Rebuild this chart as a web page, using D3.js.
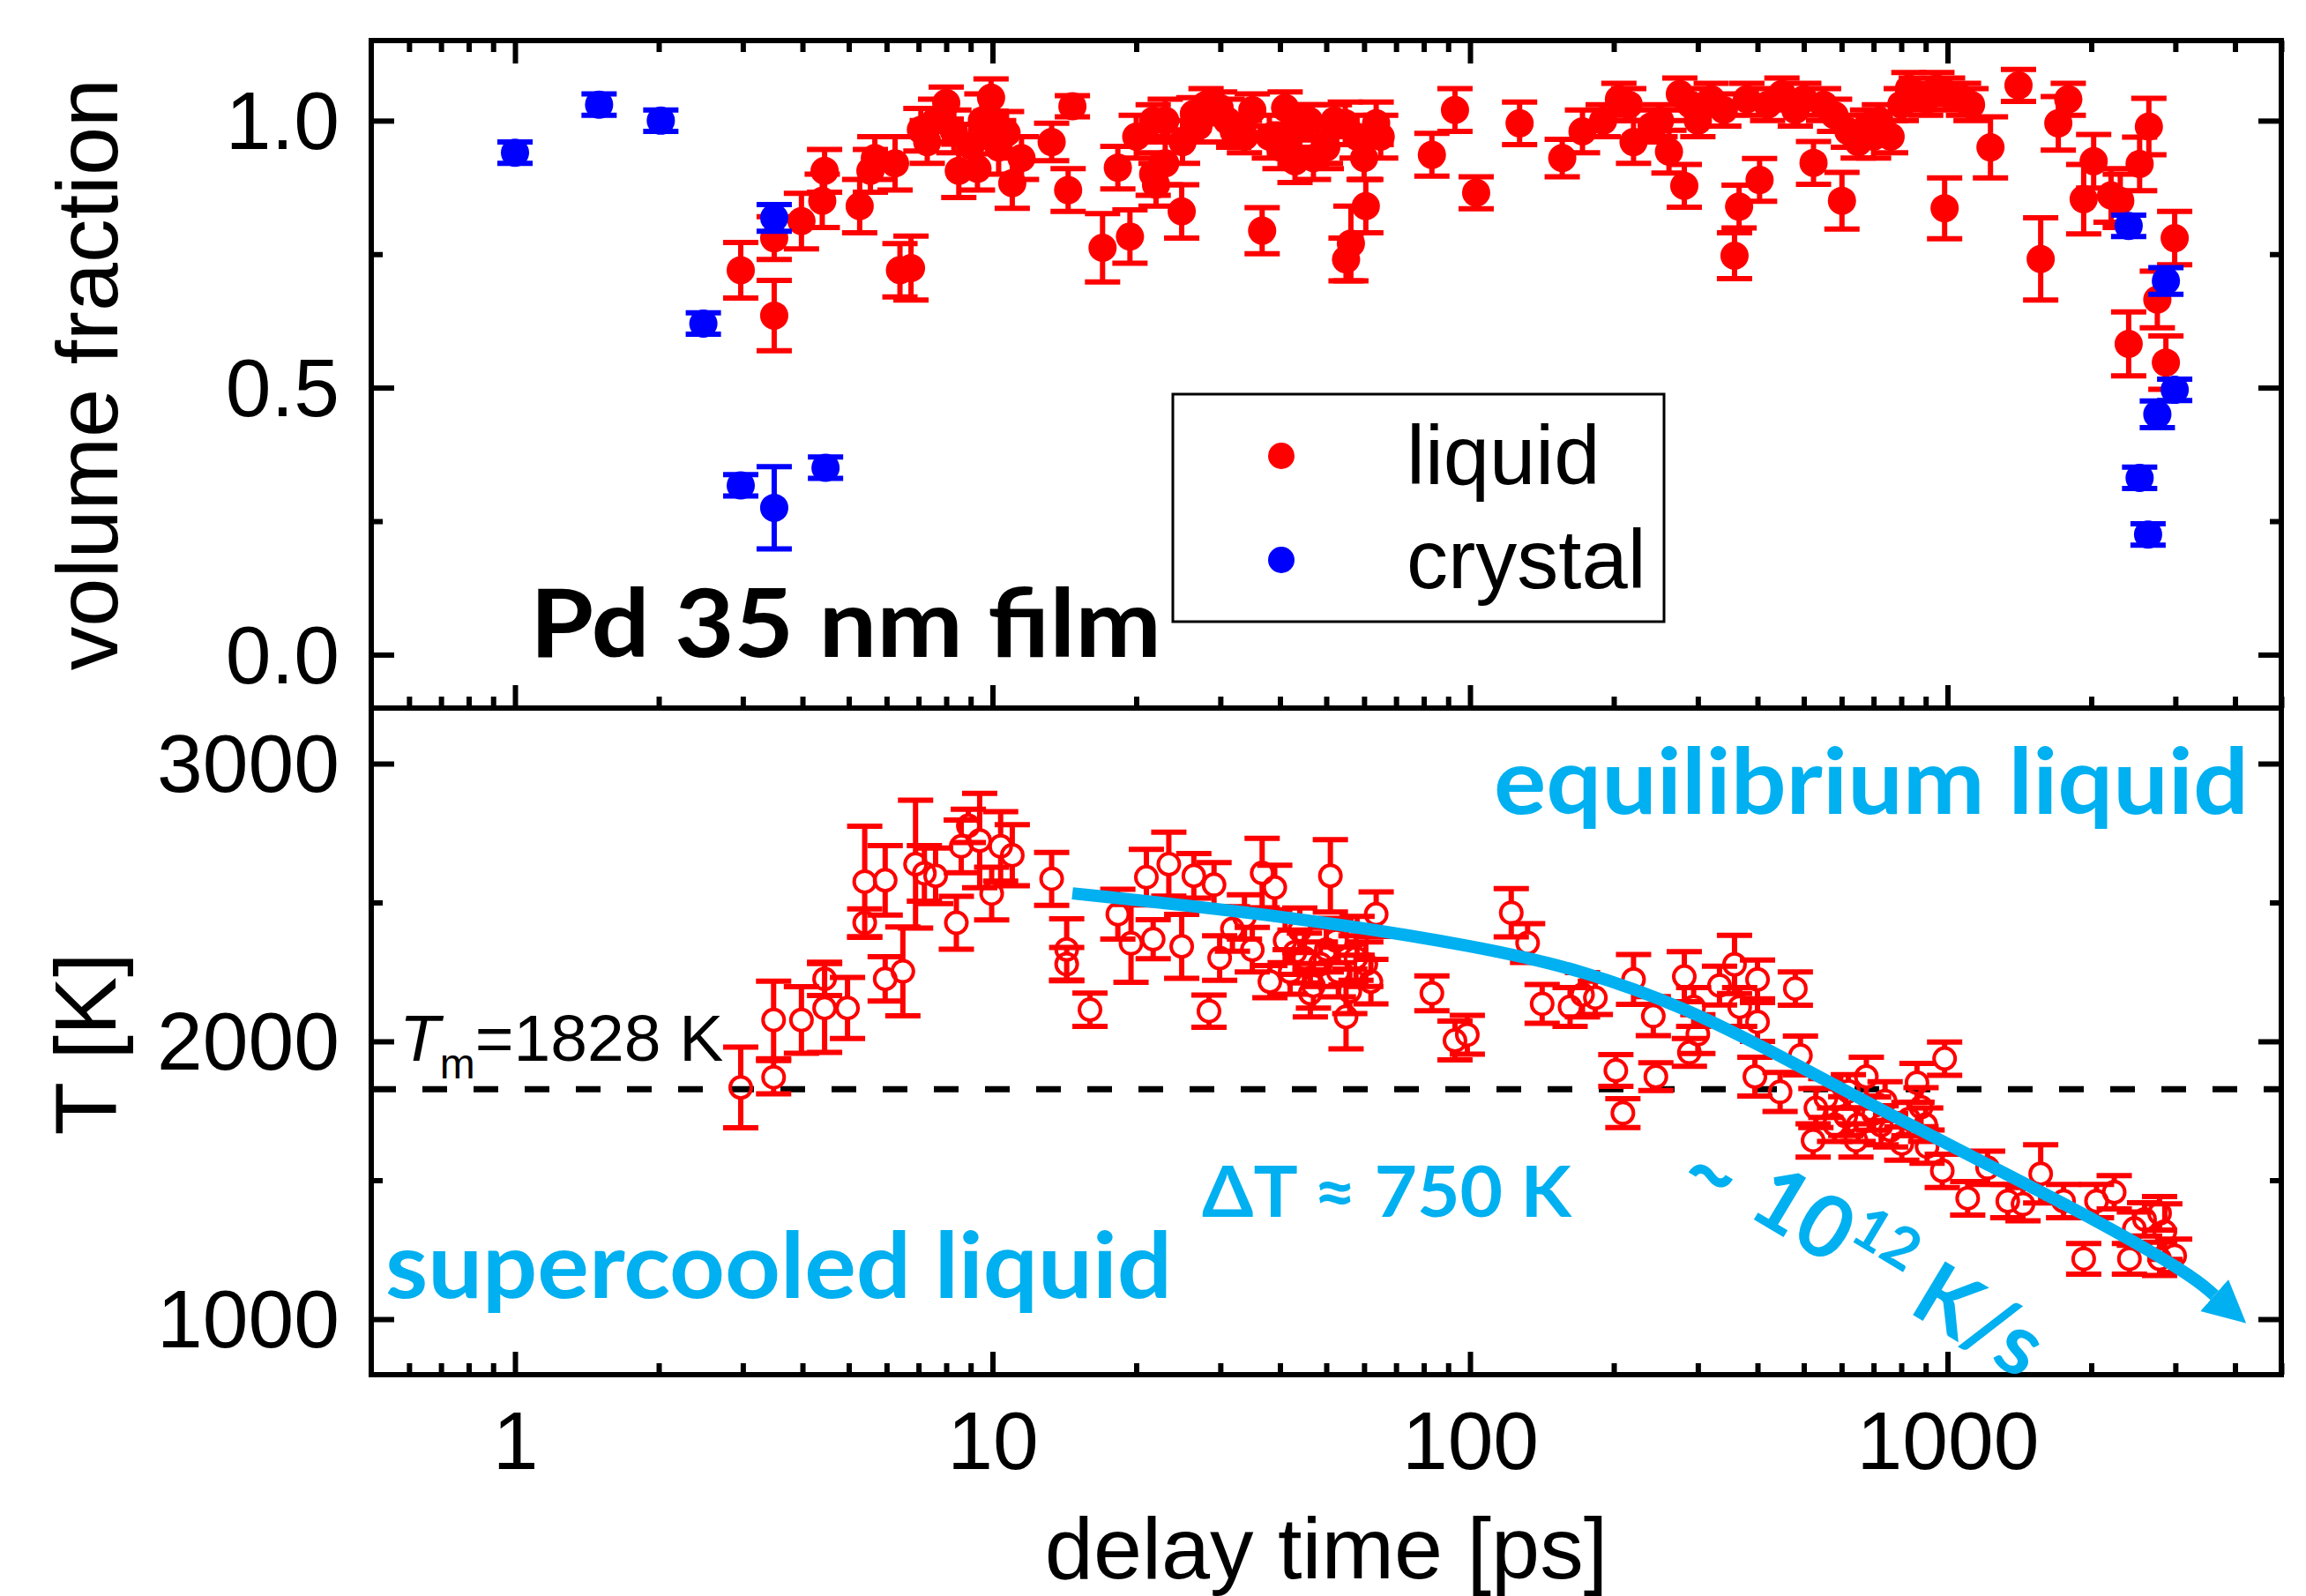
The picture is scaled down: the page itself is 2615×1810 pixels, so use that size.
<!DOCTYPE html>
<html>
<head>
<meta charset="utf-8">
<script src="https://cdn.jsdelivr.net/npm/d3@7"></script>
<style>
  html, body { margin: 0; padding: 0; background: #fff; }
  svg { display: block; }
  .tick text { font-family: "Liberation Sans", Arial, sans-serif; font-size: 93px; fill: #000; }
  .tick line { stroke: #000; stroke-width: 6; }
  .axis-title { font-family: "Liberation Sans", Arial, sans-serif; font-size: 99px; fill: #000; }
  .note { font-family: Lato, "Open Sans", sans-serif; font-weight: 700; fill: #00b0f0; }
</style>
</head>
<body>
<div id="chart"></div>
<script>
// volume fraction of liquid: [delay ps, fraction, error]
const liquidFrac = [
  [2.97,0.72,0.052],[3.49,0.635,0.066],[3.49,0.78,0.04],[3.98,0.812,0.052],
  [4.4,0.85,0.05],[4.45,0.906,0.04],[5.27,0.84,0.05],[5.55,0.906,0.04],[5.67,0.93,0.04],
  [6.25,0.92,0.05],[6.4,0.72,0.05],[6.75,0.724,0.06],[7.08,0.983,0.04],[7.3,0.96,0.04],
  [7.6,1.0,0.04],[8.0,1.033,0.03],[8.3,0.98,0.04],[8.5,0.906,0.05],[9.0,0.953,0.04],
  [9.3,0.91,0.04],[9.5,1.0,0.05],[9.93,1.043,0.035],[9.93,0.978,0.04],[10.3,0.95,0.05],
  [10.7,0.977,0.04],[11.0,0.883,0.047],[11.5,0.93,0.04],[13.3,0.96,0.035],[14.4,0.87,0.04],
  [14.7,1.027,0.02],[17.0,0.762,0.064],[18.3,0.912,0.04],[19.4,0.783,0.05],[20,0.97,0.04],
  [21.7,0.9,0.04],[21.7,1.0,0.03],[22,0.88,0.04],[23,1.0,0.04],[23,0.92,0.04],[24.9,0.83,0.05],
  [25,0.96,0.04],[26.4,1.013,0.03],[27,0.99,0.03],[28,1.03,0.03],[29.9,1.024,0.03],[31,1.0,0.04],
  [32,0.98,0.03],[33.7,0.97,0.03],[35,1.02,0.03],[36.7,0.794,0.043],[38,0.97,0.04],[40,0.95,0.04],
  [41,1.024,0.03],[42,0.98,0.04],[43,0.924,0.04],[44,0.99,0.04],[46,1.0,0.03],[47,0.93,0.04],
  [49.8,0.96,0.04],[50,0.95,0.04],[52,1.0,0.03],[54.8,0.995,0.04],[55,0.74,0.04],[56.3,0.77,0.07],
  [58,0.97,0.04],[60,0.93,0.04],[60.5,0.84,0.05],[63.6,0.995,0.04],[65,0.97,0.04],
  [83.2,0.936,0.04],[93,1.02,0.04],[103,0.865,0.03],[127,0.995,0.04],[156,0.93,0.035],
  [172,0.98,0.04],[190,1.0,0.03],[205,1.04,0.03],[215,1.03,0.03],[220,0.96,0.04],[240,0.99,0.03],
  [250,1.0,0.03],[261,0.942,0.04],[275,1.05,0.03],[281,0.878,0.04],[290,1.03,0.03],[300,1.0,0.03],
  [320,1.04,0.03],[340,1.02,0.03],[358,0.747,0.043],[366,0.839,0.04],[380,1.04,0.03],[404,0.889,0.04],
  [420,1.03,0.03],[450,1.05,0.03],[480,1.02,0.03],[500,1.04,0.03],[524,0.921,0.04],[550,1.03,0.03],
  [580,1.01,0.03],[601,0.85,0.053],[620,0.98,0.03],[650,0.96,0.03],[680,0.99,0.03],[700,0.97,0.04],
  [720,1.0,0.03],[760,0.97,0.03],[800,1.03,0.03],[830,1.06,0.03],[860,1.05,0.03],[900,1.04,0.03],
  [950,1.06,0.03],[986,0.836,0.057],[1000,1.05,0.03],[1080,1.04,0.03],[1120,1.03,0.03],
  [1230,0.95,0.057],[1408,1.066,0.03],[1567,0.741,0.077],[1706,0.995,0.05],[1790,1.04,0.03],
  [1928,0.853,0.065],[2023,0.924,0.05],[2200,0.86,0.05],[2300,0.85,0.05],[2395,0.582,0.06],
  [2525,0.919,0.05],[2640,0.989,0.053],[2750,0.665,0.053],[2866,0.547,0.05],[2990,0.78,0.05]
];

// volume fraction of crystal
const crystalFrac = [
  [1.0,0.94,0.02],[1.5,1.03,0.02],[2.02,1.0,0.02],[2.48,0.62,0.02],[2.97,0.317,0.02],
  [3.49,0.818,0.025],[3.49,0.275,0.077],[4.47,0.35,0.02],
  [2395,0.803,0.02],[2525,0.331,0.02],[2630,0.225,0.02],[2750,0.45,0.025],[2866,0.70,0.025],[2990,0.496,0.02]
];

// liquid temperature: [delay ps, T K, error]
const liquidTemp = [
  [2.97,1834,145],[3.48,2077,140],[3.48,1871,60],[3.98,2077,120],[4.45,2120,160],[4.45,2225,60],
  [4.97,2120,110],[5.4,2575,200],[5.4,2427,50],[5.96,2580,125],[5.96,2225,80],[6.49,2252,160],
  [6.9,2638,230],[7.2,2605,100],[7.6,2596,100],[8.4,2427,95],[8.6,2702,95],[8.9,2776,60],
  [9.4,2723,170],[9.96,2532,95],[10.4,2702,125],[11,2670,110],[13.3,2585,95],[14.3,2331,110],
  [14.3,2278,60],[16,2114,60],[18.3,2458,90],[19.5,2353,140],[21,2591,100],[21.7,2368,70],
  [23.4,2638,115],[24.9,2342,115],[26.4,2596,80],[28.4,2109,58],[29.1,2564,80],[29.9,2300,80],
  [31.8,2405,80],[33.7,2448,80],[35,2330,80],[36.7,2606,125],[38.1,2215,58],[39,2554,80],
  [41,2363,80],[42,2250,80],[43,2321,80],[44,2400,80],[45,2300,90],[46.3,2173,85],[47,2200,80],
  [48.6,2278,80],[50,2330,80],[51,2596,130],[52.4,2363,80],[53,2250,90],[55,2088,115],
  [56,2180,80],[57.7,2300,80],[58,2380,70],[60.5,2278,80],[62,2215,80],[63.6,2458,80],
  [83.2,2173,63],[93,2003,70],[98.7,2024,70],
  [122,2463,87],[132,2354,70],[141.6,2135,70],[162,2124,70],[172,2168,80],[183,2157,60],
  [202,1895,57],[209,1742,52],[220,2223,90],[242,2091,70],[245,1873,50],[281,2233,90],
  [288,1960,50],[294,2124,70],[300,2026,70],[333,2201,70],[358,2277,105],[367,2124,70],
  [395,1873,70],[400,2223,70],[400,2070,70],[446,1818,70],[480,2190,60],[492,1949,70],
  [523,1643,60],[530,1760,70],[556,1796,70],[580,1700,60],[612,1731,70],[620,1820,60],
  [643,1643,60],[650,1700,60],[676,1873,70],[700,1740,60],[726,1698,70],[740,1785,70],
  [760,1680,60],[802,1632,60],[830,1720,60],[863,1851,70],[880,1763,70],[900,1700,60],
  [906,1621,60],[975,1534,60],[986,1938,60],[1102,1435,60],[1213,1545,60],[1337,1425,60],
  [1439,1414,60],[1567,1523,105],[1750,1425,60],[1928,1217,55],[2051,1425,60],[2234,1457,60],
  [2404,1217,55],[2462,1326,60],[2586,1359,60],[2780,1217,60],[2780,1381,60],[2851,1315,100],
  [2990,1228,60]
];

// cooling arrow drawn through these (delay ps, T K)
const arrowTime = [14.7, 43.1, 105.7, 172, 281, 456, 744, 1214, 1977, 3228, 3622];
const arrowTemp = [2533, 2448, 2340, 2256, 2124, 1940, 1743, 1556, 1371, 1162, 1086];

const meltTemp = 1828;
const xMajor = [1, 10, 100, 1000];
const xLabels = ["1", "10", "100", "1000"];
const fracMajor = [0, 0.5, 1.0];
const fracMinor = [0.25, 0.75];
const tempMajor = [1000, 2000, 3000];
const tempMinor = [1500, 2500];
const legendNames = ["liquid", "crystal"];
const legendColors = ["#ff0000", "#0000ff"];

const xMinor = [];
[0.1, 1, 10, 100, 1000].forEach(dec => {
  for (let k = 2; k <= 9; k++) {
    const v = dec * k;
    if (v > 0.5 && v <= 5000) xMinor.push(v);
  }
});

const W = 2615, H = 1810;
const L = 421, R = 2587, T0 = 46, MID = 803, B = 1559;

const svg = d3.select("#chart").append("svg").attr("width", W).attr("height", H);

const x = d3.scaleLog().domain([0.5, 5000]).range([L, R]);
const yFrac = d3.scaleLinear().domain([-0.1, 1.15]).range([MID, T0]);
const yTemp = d3.scaleLinear().domain([800, 3200]).range([B, MID]);

const defs = svg.append("defs");
defs.append("clipPath").attr("id", "clipTop")
  .append("rect").attr("x", L).attr("y", T0).attr("width", R - L).attr("height", MID - T0);
defs.append("clipPath").attr("id", "clipBot")
  .append("rect").attr("x", L).attr("y", MID).attr("width", R - L).attr("height", B - MID);
defs.append("marker").attr("id", "head")
  .attr("markerUnits", "userSpaceOnUse")
  .attr("viewBox", "0 -25 50 50")
  .attr("markerWidth", 50).attr("markerHeight", 50)
  .attr("refX", 0).attr("refY", 0).attr("orient", "auto")
  .append("path").attr("d", "M0,-24L48,0L0,24Z").attr("fill", "#00b0f0");

const topPanel = svg.append("g").attr("clip-path", "url(#clipTop)");
const botPanel = svg.append("g").attr("clip-path", "url(#clipBot)");

// melting line
botPanel.append("line")
  .attr("x1", L).attr("x2", R)
  .attr("y1", yTemp(meltTemp)).attr("y2", yTemp(meltTemp))
  .attr("stroke", "#000").attr("stroke-width", 7)
  .attr("stroke-dasharray", "28,30");

// error bars; open markers leave a gap where the circle is
function errorBars(layer, rows, yS, color, r, open) {
  const g = layer.append("g").attr("stroke", color).attr("stroke-width", 6).attr("fill", "none");
  rows.forEach(([t, v, e]) => {
    const cx = x(t), cy = yS(v), hi = yS(v + e), lo = yS(v - e);
    if (open) {
      if (cy - r > hi) g.append("line").attr("x1", cx).attr("x2", cx).attr("y1", hi).attr("y2", cy - r);
      if (cy + r < lo) g.append("line").attr("x1", cx).attr("x2", cx).attr("y1", cy + r).attr("y2", lo);
    } else {
      g.append("line").attr("x1", cx).attr("x2", cx).attr("y1", hi).attr("y2", lo);
    }
    [hi, lo].forEach(yy => {
      g.append("line").attr("x1", cx - 20).attr("x2", cx + 20).attr("y1", yy).attr("y2", yy);
    });
  });
}

errorBars(topPanel, liquidFrac, yFrac, "#ff0000", 16, false);
topPanel.append("g").selectAll("circle").data(liquidFrac).join("circle")
  .attr("cx", d => x(d[0])).attr("cy", d => yFrac(d[1])).attr("r", 16)
  .attr("fill", "#ff0000");

errorBars(topPanel, crystalFrac, yFrac, "#0000ff", 16, false);
topPanel.append("g").selectAll("circle").data(crystalFrac).join("circle")
  .attr("cx", d => x(d[0])).attr("cy", d => yFrac(d[1])).attr("r", 16)
  .attr("fill", "#0000ff");

errorBars(botPanel, liquidTemp, yTemp, "#ff0000", 12, true);
botPanel.append("g").selectAll("circle").data(liquidTemp).join("circle")
  .attr("cx", d => x(d[0])).attr("cy", d => yTemp(d[1])).attr("r", 12)
  .attr("fill", "none").attr("stroke", "#ff0000").attr("stroke-width", 4);

// cooling arrow
const arrowLine = d3.line().x(d => x(d[0])).y(d => yTemp(d[1])).curve(d3.curveBasis);
svg.append("path")
  .datum(arrowTime.map((t, i) => [t, arrowTemp[i]]))
  .attr("d", arrowLine)
  .attr("fill", "none").attr("stroke", "#00b0f0").attr("stroke-width", 14)
  .attr("marker-end", "url(#head)");

// frames
[[T0, MID], [MID, B]].forEach(([a, b]) => {
  svg.append("rect").attr("x", L).attr("y", a).attr("width", R - L).attr("height", b - a)
    .attr("fill", "none").attr("stroke", "#000").attr("stroke-width", 6);
});

// ticks, all pointing inward
function ticks(gy, axis, scale, values, len, fmt, pad) {
  const a = axis(scale).tickValues(values).tickSize(-len).tickSizeOuter(0).tickPadding(pad || 0)
    .tickFormat(fmt || "");
  const g = svg.append("g").attr("transform", gy).call(a);
  g.select(".domain").remove();
  return g;
}

ticks(`translate(0,${T0})`, d3.axisTop, x, xMajor, 26);
ticks(`translate(0,${T0})`, d3.axisTop, x, xMinor, 13);
ticks(`translate(0,${MID})`, d3.axisBottom, x, xMajor, 26);
ticks(`translate(0,${MID})`, d3.axisBottom, x, xMinor, 13);
ticks(`translate(0,${B})`, d3.axisBottom, x, xMajor, 26, (d, i) => xLabels[i], 41);
ticks(`translate(0,${B})`, d3.axisBottom, x, xMinor, 13);

ticks(`translate(${L},0)`, d3.axisLeft, yFrac, fracMajor, 26, d3.format(".1f"), 36)
  .selectAll("text").attr("dy", "0.34em");
ticks(`translate(${L},0)`, d3.axisLeft, yFrac, fracMinor, 13);
ticks(`translate(${R},0)`, d3.axisRight, yFrac, fracMajor, 26);
ticks(`translate(${R},0)`, d3.axisRight, yFrac, fracMinor, 13);
ticks(`translate(${L},0)`, d3.axisLeft, yTemp, tempMajor, 26, d3.format("d"), 36)
  .selectAll("text").attr("dy", "0.34em");
ticks(`translate(${L},0)`, d3.axisLeft, yTemp, tempMinor, 13);
ticks(`translate(${R},0)`, d3.axisRight, yTemp, tempMajor, 26);
ticks(`translate(${R},0)`, d3.axisRight, yTemp, tempMinor, 13);

// axis titles
svg.append("text").attr("class", "axis-title")
  .attr("transform", `translate(133,${(T0 + MID) / 2}) rotate(-90)`)
  .attr("text-anchor", "middle").text("volume fraction");
svg.append("text").attr("class", "axis-title")
  .attr("transform", `translate(131,${(MID + B) / 2 + 3}) rotate(-90)`)
  .attr("text-anchor", "middle").text("T [K]");
svg.append("text").attr("class", "axis-title")
  .attr("x", (L + R) / 2).attr("y", 1790)
  .attr("text-anchor", "middle").text("delay time [ps]");

// melting label
const tm = svg.append("text")
  .attr("x", 453).attr("y", yTemp(meltTemp) - 32)
  .style("font-family", "'Liberation Sans', Arial, sans-serif").style("font-size", "75px");
tm.append("tspan").style("font-style", "italic").text("T");
tm.append("tspan").attr("dy", 20).style("font-size", "48px").text("m");
tm.append("tspan").attr("dy", -20).text("=" + meltTemp + " K");

// legend
const leg = svg.append("g");
leg.append("rect").attr("x", 1330).attr("y", 447).attr("width", 557).attr("height", 258)
  .attr("fill", "#fff").attr("stroke", "#000").attr("stroke-width", 3);
const items = leg.selectAll("g.item").data(legendNames).join("g")
  .attr("transform", (d, i) => `translate(0,${517 + i * 118})`);
items.append("circle").attr("cx", 1453).attr("cy", 0).attr("r", 15)
  .attr("fill", (d, i) => legendColors[i]);
items.append("text").attr("x", 1595).attr("y", 32)
  .style("font-family", "'Liberation Sans', Arial, sans-serif").style("font-size", "94px")
  .text(d => d);

// annotations
svg.append("text").attr("x", 601).attr("y", 745)
  .attr("textLength", 716).attr("lengthAdjust", "spacingAndGlyphs")
  .style("font-family", "Lato, 'Open Sans', sans-serif").style("font-weight", 700)
  .style("font-size", "108px").attr("fill", "#000").text("Pd 35 nm film");

svg.append("text").attr("class", "note").attr("x", 1694).attr("y", 923)
  .attr("textLength", 856).attr("lengthAdjust", "spacingAndGlyphs")
  .style("font-size", "104px").text("equilibrium liquid");
svg.append("text").attr("class", "note").attr("x", 437).attr("y", 1472)
  .attr("textLength", 892).attr("lengthAdjust", "spacingAndGlyphs")
  .style("font-size", "104px").text("supercooled liquid");
svg.append("text").attr("class", "note").attr("x", 1363).attr("y", 1380)
  .attr("textLength", 419).attr("lengthAdjust", "spacingAndGlyphs")
  .style("font-size", "80px").text("\u0394T \u2248 750 K");

const rate = svg.append("g").attr("transform", "translate(1979,1377) rotate(31)");
rate.append("text").attr("class", "note").attr("x", -56).attr("y", 12)
  .attr("text-anchor", "middle").style("font-size", "98px").text("~");
const rt = rate.append("text").attr("class", "note").attr("x", 0).attr("y", 0).style("font-size", "98px");
rt.append("tspan").text("10");
rt.append("tspan").attr("dy", -36).style("font-size", "66px").text("12");
rt.append("tspan").attr("dy", 36).text(" K/s");
</script>
</body>
</html>
